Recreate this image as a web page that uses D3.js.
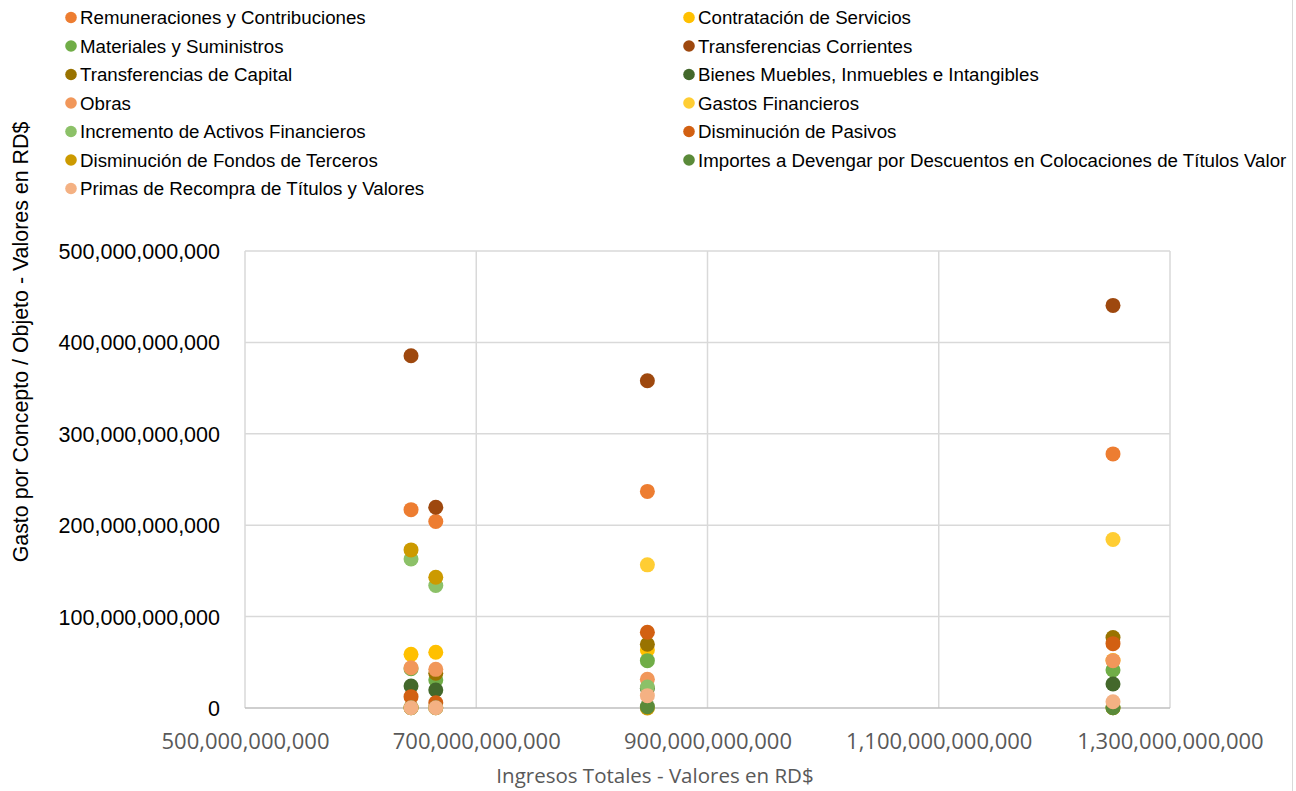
<!DOCTYPE html>
<html>
<head>
<meta charset="utf-8">
<script src="https://cdn.jsdelivr.net/npm/d3@7"></script>
<style>
  html, body { margin: 0; padding: 0; background: #ffffff; }
  svg { display: block; }
</style>
</head>
<body>
<svg id="chart" width="1296" height="791"></svg>
<script>
// ---- Data ----
const xValues = [643.6e9, 665.0e9, 848.0e9, 1250.7e9]; // Ingresos Totales

const seriesNames = [
  "Remuneraciones y Contribuciones",
  "Contratación de Servicios",
  "Materiales y Suministros",
  "Transferencias Corrientes",
  "Transferencias de Capital",
  "Bienes Muebles, Inmuebles e Intangibles",
  "Obras",
  "Gastos Financieros",
  "Incremento de Activos Financieros",
  "Disminución de Pasivos",
  "Disminución de Fondos de Terceros",
  "Importes a Devengar por Descuentos en Colocaciones de Títulos Valor",
  "Primas de Recompra de Títulos y Valores"
];

const remuneraciones   = [217.0e9, 204.0e9, 237.0e9, 278.0e9];
const contratacion     = [58.7e9, 61.0e9, 63.5e9, 52.0e9];
const materiales       = [43.0e9, 30.6e9, 51.8e9, 41.6e9];
const transfCorrientes = [385.4e9, 219.7e9, 358.0e9, 440.5e9];
const transfCapital    = [0.5e9, 38.0e9, 69.7e9, 77.0e9];
const bienesMuebles    = [24.0e9, 19.7e9, 21.5e9, 26.3e9];
const obras            = [44.0e9, 42.3e9, 31.4e9, 51.8e9];
const gastosFinancieros= [0.2e9, 0.2e9, 156.6e9, 184.3e9];
const incrActivos      = [163.0e9, 134.0e9, 23.0e9, 0.3e9];
const dismPasivos      = [12.4e9, 5.8e9, 82.9e9, 70.4e9];
const dismFondos       = [173.0e9, 143.0e9, 0.0, 0.2e9];
const importesDevengar = [0.2e9, 0.2e9, 1.5e9, 0.3e9];
const primasRecompra   = [0.3e9, 0.3e9, 13.5e9, 6.9e9];

const seriesValues = [remuneraciones, contratacion, materiales, transfCorrientes,
  transfCapital, bienesMuebles, obras, gastosFinancieros, incrActivos,
  dismPasivos, dismFondos, importesDevengar, primasRecompra];

const seriesColors = ["#ED7D31", "#FFC000", "#70AD47", "#9E480E", "#997300",
  "#43682B", "#F1975A", "#FFCD33", "#8CC168", "#D26012", "#CC9A00", "#5A8A39", "#F4B183"];

const xTicks = [500e9, 700e9, 900e9, 1100e9, 1300e9];
const yTicks = [0, 100e9, 200e9, 300e9, 400e9, 500e9];

const xTitle = "Ingresos Totales - Valores en RD$";
const yTitle = "Gasto por Concepto / Objeto - Valores en RD$";

// ---- Layout ----
const svg = d3.select("#chart");
const plot = { left: 245, right: 1170, top: 251, bottom: 708 };

const x = d3.scaleLinear().domain([500e9, 1300e9]).range([plot.left, plot.right]);
const y = d3.scaleLinear().domain([0, 500e9]).range([plot.bottom, plot.top]);
const fmt = d3.format(",.0f");

// frame on right edge
svg.append("line").attr("x1", 1292.5).attr("x2", 1292.5).attr("y1", 0).attr("y2", 791)
  .attr("stroke", "#d9d9d9").attr("stroke-width", 1);

// gridlines
const g = svg.append("g");
g.selectAll("line.hgrid").data(yTicks.filter(d => d > 0)).join("line")
  .attr("class", "hgrid")
  .attr("x1", plot.left).attr("x2", plot.right)
  .attr("y1", d => y(d)).attr("y2", d => y(d))
  .attr("stroke", "#d9d9d9").attr("stroke-width", 1.5);
g.selectAll("line.vgrid").data(xTicks).join("line")
  .attr("class", "vgrid")
  .attr("x1", d => x(d)).attr("x2", d => x(d))
  .attr("y1", plot.top).attr("y2", plot.bottom)
  .attr("stroke", "#d9d9d9").attr("stroke-width", 1.5);
// x axis line
g.append("line").attr("x1", plot.left).attr("x2", plot.right)
  .attr("y1", plot.bottom).attr("y2", plot.bottom)
  .attr("stroke", "#bfbfbf").attr("stroke-width", 1.5);

// y tick labels
const yAxis = d3.axisLeft(y).tickValues(yTicks).tickFormat(fmt).tickSize(0).tickPadding(0);
const ya = svg.append("g").attr("transform", `translate(220,0)`).call(yAxis);
ya.select(".domain").remove();
ya.selectAll("text").attr("font-family", "'Liberation Sans', Arial, sans-serif")
  .attr("font-size", 21.5).attr("fill", "#000").attr("dy", "0.35em");

// x tick labels
const xAxis = d3.axisBottom(x).tickValues(xTicks).tickFormat(fmt).tickSize(0).tickPadding(0);
const xa = svg.append("g").attr("transform", `translate(0,733)`).call(xAxis);
xa.select(".domain").remove();
xa.selectAll("text").attr("font-family", "'Open Sans', sans-serif")
  .attr("font-size", 22).attr("fill", "#595959").attr("dy", "0.71em");

// axis titles
svg.append("text").attr("x", 655).attr("y", 783).attr("text-anchor", "middle")
  .attr("font-family", "'Open Sans', sans-serif").attr("font-size", 20.5)
  .attr("fill", "#595959").text(xTitle);
svg.append("text").attr("transform", "translate(28,342) rotate(-90)")
  .attr("text-anchor", "middle")
  .attr("font-family", "'Liberation Sans', Arial, sans-serif").attr("font-size", 21.4)
  .attr("fill", "#000").text(yTitle);

// points
seriesValues.forEach((vals, si) => {
  svg.append("g").selectAll("circle").data(vals).join("circle")
    .attr("cx", (d, i) => x(xValues[i]))
    .attr("cy", d => y(d))
    .attr("r", 7.5)
    .attr("fill", seriesColors[si]);
});

// legend
const legend = svg.append("g");
seriesNames.forEach((name, i) => {
  const col = i % 2, row = Math.floor(i / 2);
  const lx = col === 0 ? 71 : 689;
  const ly = 17.5 + row * 28.5;
  legend.append("circle").attr("cx", lx).attr("cy", ly).attr("r", 5.8).attr("fill", seriesColors[i]);
  legend.append("text").attr("x", lx + 9).attr("y", ly).attr("dy", "0.35em")
    .attr("font-family", "'Liberation Sans', Arial, sans-serif").attr("font-size", 18.7)
    .attr("fill", "#000").text(name);
});
</script>
</body>
</html>
